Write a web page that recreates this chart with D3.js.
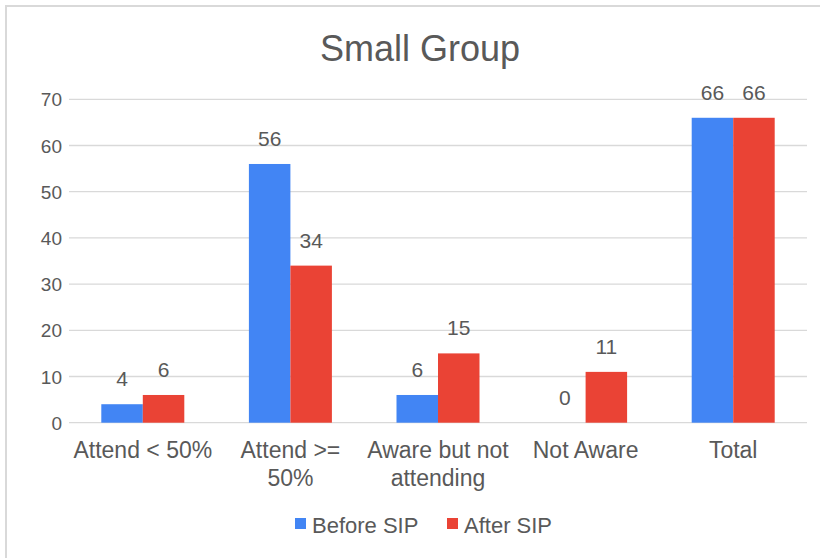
<!DOCTYPE html>
<html>
<head>
<meta charset="utf-8">
<script src="https://cdn.jsdelivr.net/npm/d3@7"></script>
<style>
  html, body { margin: 0; padding: 0; background: #fff; }
  text { font-family: "Liberation Sans", Arial, sans-serif; fill: #595959; }
</style>
</head>
<body>
<svg id="chart" width="820" height="558"></svg>
<script>
const title = "Small Group";
const categories = [["Attend < 50%"], ["Attend >=", "50%"], ["Aware but not", "attending"], ["Not Aware"], ["Total"]];
const seriesNames = ["Before SIP", "After SIP"];
const beforeSIP = [4, 56, 6, 0, 66];
const afterSIP = [6, 34, 15, 11, 66];
const yTicks = [0, 10, 20, 30, 40, 50, 60, 70];
const colors = ["#4285f4", "#ea4335"];

(function () {
const svg = d3.select("#chart");
const W = 820, H = 558;

// outer border
svg.append("rect").attr("x", 6).attr("y", 6).attr("width", W + 10).attr("height", H + 10)
  .attr("fill", "none").attr("stroke", "#d9d9d9").attr("stroke-width", 2);

const plotLeft = 69, plotRight = 807, plotTop = 99.3, plotBottom = 422.7;

const x0 = d3.scaleBand().domain(d3.range(categories.length)).range([plotLeft, plotRight]).paddingInner(0).paddingOuter(0);
const x1 = d3.scaleBand().domain([0, 1]).range([0, 83]);
const y = d3.scaleLinear().domain([0, 70]).range([plotBottom, plotTop]);

// gridlines
svg.append("g").selectAll("line").data(yTicks).join("line")
  .attr("x1", plotLeft).attr("x2", plotRight)
  .attr("y1", d => y(d)).attr("y2", d => y(d))
  .attr("stroke", "#d9d9d9").attr("stroke-width", 1.3);

// y axis labels
const yAxis = d3.axisLeft(y).tickValues(yTicks).tickSize(0).tickPadding(0);
const gy = svg.append("g").attr("transform", `translate(${plotLeft - 7},0)`).call(yAxis);
gy.select(".domain").remove();
gy.selectAll("text").attr("font-size", 19).attr("fill", "#595959")
  .attr("font-family", "'Liberation Sans', Arial, sans-serif").attr("dy", "0.35em");

const series = [beforeSIP, afterSIP];
const bw = x1.bandwidth();

series.forEach((vals, si) => {
  const g = svg.append("g");
  g.selectAll("rect").data(vals).join("rect")
    .attr("x", (d, i) => x0(i) + x0.bandwidth() / 2 - 41.5 + x1(si))
    .attr("y", d => y(d))
    .attr("width", bw)
    .attr("height", d => y(0) - y(d))
    .attr("fill", colors[si]);
  g.selectAll("text").data(vals).join("text")
    .attr("x", (d, i) => x0(i) + x0.bandwidth() / 2 - 41.5 + x1(si) + bw / 2)
    .attr("y", d => y(d) - 18)
    .attr("text-anchor", "middle")
    .attr("font-size", 21)
    .text(d => d);
});

// category labels
const gx = svg.append("g");
categories.forEach((lines, i) => {
  const t = gx.append("text")
    .attr("x", x0(i) + x0.bandwidth() / 2)
    .attr("y", 458)
    .attr("text-anchor", "middle")
    .attr("font-size", 23);
  lines.forEach((ln, j) => {
    t.append("tspan").attr("x", x0(i) + x0.bandwidth() / 2).attr("dy", j === 0 ? 0 : 28).text(ln);
  });
});

// title
svg.append("text").attr("x", 420).attr("y", 61).attr("text-anchor", "middle")
  .attr("font-size", 36).attr("fill", "#595959").text(title);

// legend
const legendX = [295, 447];
seriesNames.forEach((name, si) => {
  svg.append("rect").attr("x", legendX[si]).attr("y", 518).attr("width", 11).attr("height", 11)
    .attr("fill", colors[si]);
  svg.append("text").attr("x", legendX[si] + 17).attr("y", 533)
    .attr("font-size", 22).text(name);
});
})();
</script>
</body>
</html>
